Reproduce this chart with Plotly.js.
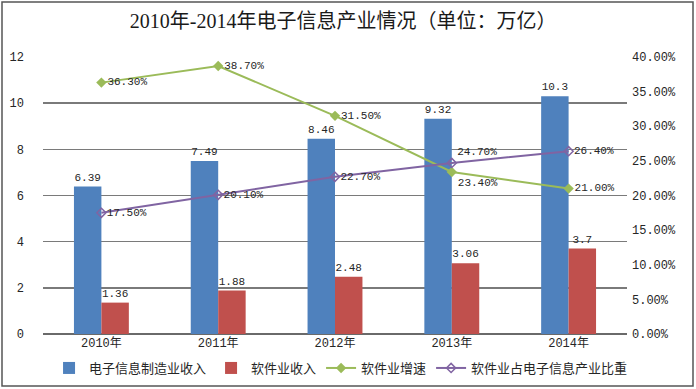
<!DOCTYPE html>
<html>
<head>
<meta charset="utf-8">
<script src="https://cdn.plot.ly/plotly-3.0.1.min.js"></script>
<style>html,body{margin:0;padding:0;background:#fff;}#chart{width:696px;height:389px;}</style>
</head>
<body>
<div id="chart"></div>
<script>
const years = ["2010年", "2011年", "2012年", "2013年", "2014年"];
const electronicsRevenue = [6.39, 7.49, 8.46, 9.32, 10.3];
const softwareRevenue = [1.36, 1.88, 2.48, 3.06, 3.7];
const softwareGrowth = [0.363, 0.387, 0.315, 0.234, 0.21];
const softwareShare = [0.175, 0.201, 0.227, 0.247, 0.264];
const seriesNames = ["电子信息制造业收入", "软件业收入", "软件业增速", "软件业占电子信息产业比重"];
const titleText = "2010年-2014年电子信息产业情况（单位：万亿）";

const mono = "Liberation Mono, Noto Sans CJK SC, monospace";
const fmtNum = v => String(v);
const fmtPct = v => (v * 100).toFixed(2) + "%";

const traces = [
  {
    type: "bar", name: seriesNames[0], x: years, y: electronicsRevenue,
    marker: {color: "#4F81BD"},
    text: electronicsRevenue.map(fmtNum), textposition: "outside",
    textfont: {family: mono, size: 11, color: "#262626"}, cliponaxis: false,
    hoverinfo: "skip"
  },
  {
    type: "bar", name: seriesNames[1], x: years, y: softwareRevenue,
    marker: {color: "#C0504D"},
    text: softwareRevenue.map(fmtNum), textposition: "outside",
    textfont: {family: mono, size: 11, color: "#262626"}, cliponaxis: false,
    hoverinfo: "skip"
  },
  {
    type: "scatter", mode: "lines+markers+text", name: seriesNames[2], x: years, y: softwareGrowth,
    yaxis: "y2",
    line: {color: "#9BBB59", width: 2},
    marker: {symbol: "diamond", size: 8, color: "#9BBB59"},
    text: softwareGrowth.map(fmtPct),
    textposition: ["middle right", "middle right", "middle right", "bottom right", "middle right"],
    textfont: {family: mono, size: 11, color: "#262626"}, cliponaxis: false,
    hoverinfo: "skip"
  },
  {
    type: "scatter", mode: "lines+markers+text", name: seriesNames[3], x: years, y: softwareShare,
    yaxis: "y2",
    line: {color: "#8064A2", width: 2},
    marker: {symbol: "diamond-open", size: 7, color: "#8064A2", line: {width: 1.5, color: "#8064A2"}},
    text: softwareShare.map(fmtPct),
    textposition: ["middle right", "middle right", "middle right", "top right", "middle right"],
    textfont: {family: mono, size: 11, color: "#262626"}, cliponaxis: false,
    hoverinfo: "skip"
  }
];

const W = 696, H = 389, L = 43, R = 69, T = 57, B = 55;
const pw = W - L - R, ph = H - T - B;
const px = x => (x - L) / pw;
const py = y => (H - B - y) / ph;

const layout = {
  width: W, height: H,
  margin: {l: L, r: R, t: T, b: B, pad: 0},
  paper_bgcolor: "#ffffff", plot_bgcolor: "#ffffff",
  showlegend: true,
  barmode: "group", bargap: 0.53, bargroupgap: 0,
  title: {
    text: titleText,
    font: {family: "Liberation Serif, Noto Sans CJK SC, serif", size: 20, color: "#1a1a1a"},
    x: 0.493, xref: "container", xanchor: "center",
    y: 1 - 21 / H, yref: "container", yanchor: "middle"
  },
  xaxis: {
    type: "category",
    showgrid: false, zeroline: false,
    showline: false, ticks: "",
    tickfont: {family: mono, size: 12, color: "#262626"}
  },
  yaxis: {
    range: [0, 12], dtick: 2, tick0: 0,
    showgrid: true, gridcolor: "#7a7a7a", gridwidth: 1.4,
    zeroline: true, zerolinecolor: "#6a6a6a", zerolinewidth: 1.6,
    showline: false, ticks: "",
    ticklabelstandoff: 18,
    tickfont: {family: mono, size: 12, color: "#262626"}
  },
  yaxis2: {
    overlaying: "y", side: "right",
    range: [0, 0.4], dtick: 0.05, tick0: 0,
    tickformat: ".2%",
    showgrid: false, zeroline: false, showline: false, ticks: "",
    ticklabelstandoff: 4,
    tickfont: {family: mono, size: 12, color: "#262626"}
  },
  legend: {
    orientation: "h",
    x: 0.49, xref: "container", xanchor: "center",
    y: 1 - 368 / H, yref: "container", yanchor: "middle",
    font: {family: "Noto Sans CJK SC, sans-serif", size: 13, color: "#262626"},
    itemwidth: 30, tracegroupgap: 0,
    bgcolor: "rgba(0,0,0,0)"
  },
  shapes: [
    {
      type: "rect", xref: "paper", yref: "paper",
      x0: px(2), x1: px(693), y0: py(386), y1: py(2),
      line: {color: "#555555", width: 1.5}, fillcolor: "rgba(0,0,0,0)", layer: "above"
    }
  ]
};

Plotly.newPlot("chart", traces, layout, {displayModeBar: false, staticPlot: true});
</script>
</body>
</html>
